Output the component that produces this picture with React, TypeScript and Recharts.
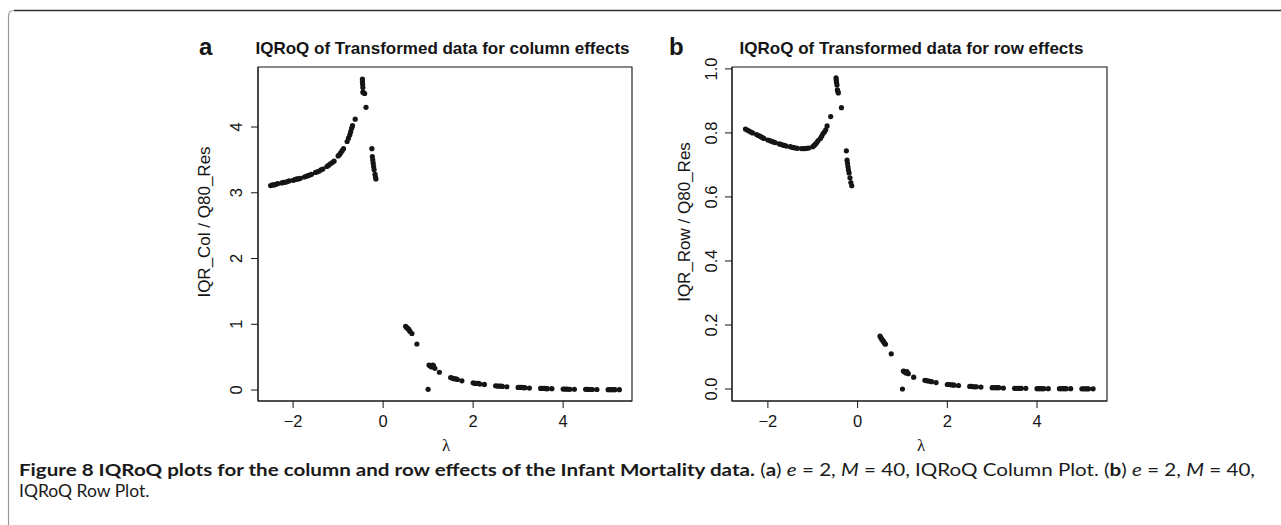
import React from 'react';
import { ScatterChart, Scatter, XAxis, YAxis, ReferenceArea } from 'recharts';

// IQRoQ of transformed data for column effects: [lambda, IQR_Col / Q80_Res]
const colEffectPoints: [number, number][] = [
  [-2.50, 3.11], [-2.46, 3.12], [-2.42, 3.12], [-2.38, 3.13], [-2.34, 3.14],
  [-2.25, 3.15], [-2.21, 3.16], [-2.17, 3.16], [-2.13, 3.17], [-2.09, 3.18],
  [-2.00, 3.19], [-1.96, 3.20], [-1.92, 3.21], [-1.88, 3.21], [-1.84, 3.22],
  [-1.75, 3.24], [-1.71, 3.25], [-1.67, 3.26], [-1.63, 3.27], [-1.59, 3.28],
  [-1.50, 3.31], [-1.46, 3.32], [-1.42, 3.33], [-1.38, 3.35], [-1.34, 3.36],
  [-1.25, 3.40], [-1.21, 3.42], [-1.17, 3.44], [-1.13, 3.46], [-1.09, 3.48],
  [-1.00, 3.56], [-0.97, 3.58], [-0.94, 3.61], [-0.91, 3.64], [-0.88, 3.67],
  [-0.80, 3.78], [-0.77, 3.83], [-0.74, 3.88], [-0.72, 3.93], [-0.70, 3.98], [-0.68, 4.02],
  [-0.62, 4.12],
  [-0.46, 4.73], [-0.46, 4.69], [-0.455, 4.65], [-0.45, 4.60], [-0.45, 4.53], [-0.43, 4.52], [-0.41, 4.51],
  [-0.38, 4.30],
  [-0.25, 3.67], [-0.24, 3.55], [-0.23, 3.50], [-0.22, 3.45], [-0.21, 3.40], [-0.20, 3.35], [-0.18, 3.28], [-0.17, 3.24], [-0.16, 3.21],
  [0.50, 0.97], [0.52, 0.95], [0.54, 0.94], [0.56, 0.93], [0.58, 0.91], [0.60, 0.89], [0.64, 0.86],
  [0.75, 0.70],
  [1.00, 0.01],
  [1.02, 0.38], [1.04, 0.37], [1.06, 0.36], [1.08, 0.35], [1.10, 0.38], [1.12, 0.37], [1.15, 0.33],
  [1.25, 0.27],
  [1.50, 0.19], [1.54, 0.18], [1.58, 0.17], [1.62, 0.17], [1.65, 0.16],
  [1.75, 0.14],
  [2.00, 0.11], [2.04, 0.10], [2.08, 0.10], [2.12, 0.10], [2.15, 0.09],
  [2.25, 0.085],
  [2.50, 0.065], [2.54, 0.060], [2.58, 0.060], [2.62, 0.060], [2.65, 0.055],
  [2.75, 0.050],
  [3.00, 0.040], [3.04, 0.040], [3.08, 0.040], [3.12, 0.035], [3.15, 0.035],
  [3.25, 0.030],
  [3.50, 0.025], [3.54, 0.025], [3.58, 0.025], [3.62, 0.020], [3.65, 0.020],
  [3.75, 0.020],
  [4.00, 0.015], [4.04, 0.015], [4.08, 0.015], [4.12, 0.012], [4.15, 0.012],
  [4.25, 0.012],
  [4.50, 0.010], [4.54, 0.010], [4.58, 0.008], [4.62, 0.008], [4.65, 0.008],
  [4.75, 0.008],
  [5.00, 0.006], [5.04, 0.006], [5.08, 0.005], [5.12, 0.005], [5.15, 0.005],
  [5.25, 0.005],
];

// IQRoQ of transformed data for row effects: [lambda, IQR_Row / Q80_Res]
const rowEffectPoints: [number, number][] = [
  [-2.50, 0.812], [-2.46, 0.809], [-2.42, 0.806], [-2.38, 0.803], [-2.34, 0.800],
  [-2.25, 0.795], [-2.21, 0.792], [-2.17, 0.789], [-2.13, 0.786], [-2.09, 0.783],
  [-2.00, 0.778], [-1.96, 0.776], [-1.92, 0.774], [-1.88, 0.772], [-1.84, 0.770],
  [-1.75, 0.766], [-1.71, 0.764], [-1.67, 0.762], [-1.63, 0.761], [-1.59, 0.759],
  [-1.50, 0.757], [-1.46, 0.755], [-1.42, 0.754], [-1.38, 0.753], [-1.34, 0.752],
  [-1.25, 0.751], [-1.21, 0.751], [-1.17, 0.751], [-1.13, 0.752], [-1.09, 0.753],
  [-1.00, 0.757], [-0.97, 0.761], [-0.94, 0.765], [-0.91, 0.770], [-0.88, 0.776],
  [-0.83, 0.783], [-0.80, 0.790], [-0.77, 0.798], [-0.74, 0.803], [-0.71, 0.810], [-0.68, 0.822],
  [-0.60, 0.851],
  [-0.48, 0.972], [-0.475, 0.965], [-0.47, 0.958], [-0.46, 0.950], [-0.45, 0.935], [-0.44, 0.930], [-0.43, 0.925],
  [-0.36, 0.879],
  [-0.25, 0.744], [-0.235, 0.715], [-0.225, 0.705], [-0.215, 0.695], [-0.205, 0.685], [-0.19, 0.675], [-0.17, 0.660], [-0.15, 0.645], [-0.13, 0.635],
  [0.50, 0.165], [0.52, 0.160], [0.54, 0.155], [0.56, 0.152], [0.58, 0.148], [0.60, 0.143], [0.62, 0.140],
  [0.75, 0.110],
  [1.00, 0.000],
  [1.02, 0.056], [1.04, 0.055], [1.06, 0.052], [1.08, 0.050], [1.10, 0.054], [1.13, 0.048],
  [1.25, 0.037],
  [1.50, 0.027], [1.54, 0.026], [1.58, 0.025], [1.62, 0.024], [1.65, 0.023],
  [1.75, 0.020],
  [2.00, 0.014], [2.04, 0.014], [2.08, 0.013], [2.12, 0.013], [2.15, 0.012],
  [2.25, 0.011],
  [2.50, 0.008], [2.54, 0.008], [2.58, 0.007], [2.62, 0.007], [2.65, 0.007],
  [2.75, 0.006],
  [3.00, 0.004], [3.04, 0.004], [3.08, 0.004], [3.12, 0.004], [3.15, 0.004],
  [3.25, 0.003],
  [3.50, 0.002], [3.54, 0.002], [3.58, 0.002], [3.62, 0.002], [3.65, 0.002],
  [3.75, 0.002],
  [4.00, 0.001], [4.04, 0.001], [4.08, 0.001], [4.12, 0.001], [4.15, 0.001],
  [4.25, 0.001],
  [4.50, 0.001], [4.54, 0.001], [4.58, 0.001], [4.62, 0.001], [4.65, 0.001],
  [4.75, 0.001],
  [5.00, 0.0005], [5.04, 0.0005], [5.08, 0.0005], [5.12, 0.0005], [5.15, 0.0005],
  [5.25, 0.0005],
];

const lambdaTicks = [-2, 0, 2, 4];
const colTicks = [0, 1, 2, 3, 4];
const rowTicks = [0, 0.2, 0.4, 0.6, 0.8, 1.0];

const colLambdaDomain: [number, number] = [-2.78, 5.53];
const colValueDomain: [number, number] = [-0.167, 4.913];
const rowLambdaDomain: [number, number] = [-2.80, 5.56];
const rowValueDomain: [number, number] = [-0.0375, 1.006];

const SANS = '"Liberation Sans", Arial, Helvetica, sans-serif';
const CAPTION = 'Lato, "Open Sans", sans-serif';
const INK = '#151515';

const toData = (pts: [number, number][]) => pts.map(([x, y]) => ({ x, y }));
const minusFmt = (v: number) => (v < 0 ? '\u2212' + Math.abs(v) : String(v));

const Dot = (props: any) => {
  const { cx, cy } = props;
  if (cx == null || cy == null) return null;
  return <circle cx={cx} cy={cy} r={2.6} fill={INK} />;
};

const makeYTick = (fmt: (v: number) => string) => (props: any) => {
  const { x, y, payload } = props;
  return (
    <text
      x={x}
      y={y}
      transform={`rotate(-90 ${x} ${y})`}
      textAnchor="middle"
      fontFamily={SANS}
      fontSize={16.5}
      fill={INK}
    >
      {fmt(payload.value)}
    </text>
  );
};

type PanelProps = {
  data: { x: number; y: number }[];
  xDomain: [number, number];
  yDomain: [number, number];
  yTicks: number[];
  yFmt: (v: number) => string;
  width: number;
  margin: { top: number; right: number; bottom: number; left: number };
  yTickMargin: number;
  left: number;
};

const Panel = ({ data, xDomain, yDomain, yTicks, yFmt, width, margin, yTickMargin, left }: PanelProps) => (
  <div style={{ position: 'absolute', left, top: 0 }}>
    <ScatterChart width={width} height={440} margin={margin}>
      <XAxis
        xAxisId="x"
        dataKey="x"
        type="number"
        domain={xDomain}
        allowDataOverflow
        ticks={lambdaTicks}
        interval={0}
        tickFormatter={minusFmt}
        height={30}
        tickSize={7}
        tickMargin={7}
        stroke={INK}
        axisLine={{ stroke: INK }}
        tickLine={{ stroke: INK }}
        tick={{ fill: INK, fontSize: 16.5, fontFamily: SANS }}
      />
      <YAxis
        yAxisId="y"
        dataKey="y"
        type="number"
        domain={yDomain}
        allowDataOverflow
        ticks={yTicks}
        interval={0}
        width={40}
        tickSize={7}
        tickMargin={yTickMargin}
        stroke={INK}
        axisLine={{ stroke: INK }}
        tickLine={{ stroke: INK }}
        tick={makeYTick(yFmt)}
      />
      <ReferenceArea
        xAxisId="x"
        yAxisId="y"
        x1={xDomain[0]}
        x2={xDomain[1]}
        y1={yDomain[0]}
        y2={yDomain[1]}
        fill="none"
        fillOpacity={0}
        stroke={INK}
        strokeWidth={1.1}
        strokeOpacity={1}
        ifOverflow="visible"
      />
      <Scatter
        xAxisId="x"
        yAxisId="y"
        data={data}
        shape={Dot}
        isAnimationActive={false}
      />
    </ScatterChart>
  </div>
);

export default function App() {
  return (
    <div style={{ position: 'absolute', left: 0, top: 0, width: 1281, height: 525, background: '#fff', overflow: 'hidden' }}>
      <Panel
        data={toData(colEffectPoints)}
        xDomain={colLambdaDomain}
        yDomain={colValueDomain}
        yTicks={colTicks}
        yFmt={(v) => String(v)}
        width={660}
        margin={{ top: 67, right: 28, bottom: 9, left: 218 }}
        yTickMargin={9}
        left={0}
      />
      <Panel
        data={toData(rowEffectPoints)}
        xDomain={rowLambdaDomain}
        yDomain={rowValueDomain}
        yTicks={rowTicks}
        yFmt={(v) => v.toFixed(1)}
        width={621}
        margin={{ top: 67, right: 174, bottom: 9, left: 32 }}
        yTickMargin={8}
        left={660}
      />
      <svg
        width={1281}
        height={525}
        style={{ position: 'absolute', left: 0, top: 0, pointerEvents: 'none' }}
      >
        {/* figure frame */}
        <path d="M 8.5 525 L 8.5 16 Q 8.5 10.5 14 10.5 L 1281 10.5" fill="none" stroke="#999" strokeWidth={1.2} />
        <path d="M 14 10.5 L 1281 10.5" fill="none" stroke="#333" strokeWidth={1.4} />

        {/* panel letters */}
        <text x={199} y={55} fontFamily={SANS} fontWeight={700} fontSize={24} fill={INK}>a</text>
        <text x={669} y={55} fontFamily={SANS} fontWeight={700} fontSize={24} fill={INK}>b</text>

        {/* titles */}
        <text x={442.5} y={54} textAnchor="middle" fontFamily={SANS} fontWeight={700} fontSize={17} fill={INK}>
          IQRoQ of Transformed data for column effects
        </text>
        <text x={911.5} y={54} textAnchor="middle" fontFamily={SANS} fontWeight={700} fontSize={17} fill={INK}>
          IQRoQ of Transformed data for row effects
        </text>

        {/* y axis labels */}
        <text x={210} y={222} transform="rotate(-90 210 222)" textAnchor="middle" fontFamily={SANS} fontSize={17} fill={INK}>
          IQR_Col / Q80_Res
        </text>
        <text x={690} y={222} transform="rotate(-90 690 222)" textAnchor="middle" fontFamily={SANS} fontSize={17} fill={INK}>
          IQR_Row / Q80_Res
        </text>

        {/* x axis labels */}
        <text x={446} y={451} textAnchor="middle" fontFamily='"Liberation Serif", serif' fontSize={17} fill={INK}>λ</text>
        <text x={921} y={451} textAnchor="middle" fontFamily='"Liberation Serif", serif' fontSize={17} fill={INK}>λ</text>

        {/* caption */}
        <text x={19} y={476} fontFamily={CAPTION} fontSize={17.5} fill="#1a1a1a" textLength={1236} lengthAdjust="spacingAndGlyphs">
          <tspan fontWeight={700}>Figure 8 IQRoQ plots for the column and row effects of the Infant Mortality data.</tspan>
          <tspan>{' ('}</tspan>
          <tspan fontWeight={700}>a</tspan>
          <tspan>{') '}</tspan>
          <tspan fontStyle="italic">e</tspan>
          <tspan>{' = 2, '}</tspan>
          <tspan fontStyle="italic">M</tspan>
          <tspan>{' = 40, IQRoQ Column Plot. ('}</tspan>
          <tspan fontWeight={700}>b</tspan>
          <tspan>{') '}</tspan>
          <tspan fontStyle="italic">e</tspan>
          <tspan>{' = 2, '}</tspan>
          <tspan fontStyle="italic">M</tspan>
          <tspan>{' = 40,'}</tspan>
        </text>
        <text x={19} y={497} fontFamily={CAPTION} fontSize={17.5} fill="#1a1a1a">
          IQRoQ Row Plot.
        </text>
      </svg>
    </div>
  );
}
